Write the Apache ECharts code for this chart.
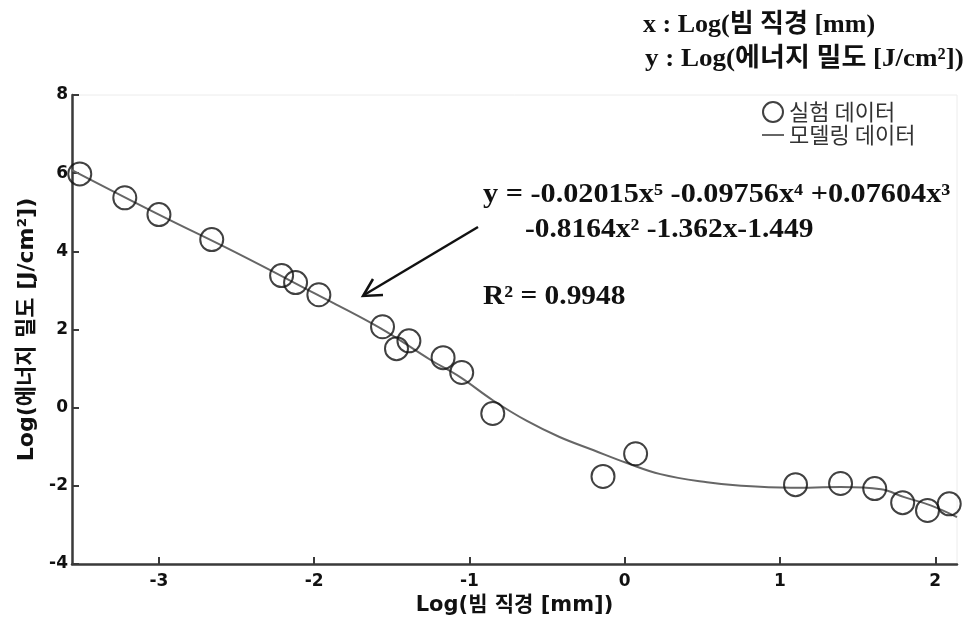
<!DOCTYPE html>
<html>
<head>
<meta charset="utf-8">
<script src="https://cdn.jsdelivr.net/npm/echarts@6/dist/echarts.min.js"></script>
<style>
html,body{margin:0;padding:0;background:#fff;}
#chart{width:970px;height:623px;}
</style>
</head>
<body>
<div id="chart"></div>
<script>
// ---- data ----
const xTicks = [-3, -2, -1, 0, 1, 2];
const expX = [-3.51, -3.22, -3.00, -2.66, -2.21, -2.12, -1.97, -1.56, -1.47, -1.39, -1.17, -1.05, -0.85, -0.14, 0.07, 1.10, 1.39, 1.61, 1.79, 1.95, 2.09];
const expY = [5.98, 5.37, 4.94, 4.30, 3.38, 3.20, 2.89, 2.07, 1.51, 1.71, 1.28, 0.90, -0.15, -1.76, -1.18, -1.97, -1.94, -2.07, -2.43, -2.63, -2.46];
const modelX = [-3.56, -3.0, -2.5, -2.0, -1.58, -1.25, -1.06, -0.85, -0.63, -0.42, -0.2, 0.01, 0.23, 0.53, 0.75, 1.07, 1.39, 1.65, 1.8, 1.97, 2.14];
const modelY = [6.08, 4.94, 3.96, 2.93, 2.05, 1.22, 0.78, 0.19, -0.34, -0.75, -1.09, -1.41, -1.70, -1.91, -2.0, -2.05, -2.03, -2.09, -2.29, -2.5, -2.8];
const expName = '실험 데이터';
const modelName = '모델링 데이터';

const expData = expX.map((x, i) => [x, expY[i]]);
const modelData = modelX.map((x, i) => [x, modelY[i]]);

const chart = echarts.init(document.getElementById('chart'), null, {renderer: 'canvas'});
const axisColor = '#3a3a3a';
const labelFont = {fontFamily: 'DejaVu Sans', fontWeight: 'bold', fontSize: 17, color: '#111'};
const nameFontFamily = 'DejaVu Sans, "Noto Sans CJK KR"';
const serif = '"Liberation Serif", "DejaVu Serif", "Noto Sans CJK KR"';

chart.setOption({
  animation: false,
  backgroundColor: '#fff',
  grid: {left: 72, right: 13, top: 95, bottom: 59, show: true, borderColor: '#ececec', borderWidth: 1},
  legend: {
    orient: 'vertical', left: 756, top: 96, itemWidth: 22, itemHeight: 20, itemGap: 1,
    textStyle: {fontFamily: '"Noto Sans CJK KR"', fontSize: 22, color: '#333'},
    data: [
      {name: expName, icon: 'circle', itemStyle: {color: 'rgba(0,0,0,0)', borderColor: '#111', borderWidth: 2}},
      {name: modelName, itemStyle: {opacity: 0}, lineStyle: {color: '#666', width: 2}}
    ]
  },
  xAxis: {
    type: 'value', min: -3.56, max: 2.14,
    axisLine: {onZero: false, lineStyle: {color: axisColor, width: 2.5}},
    axisTick: {inside: true, length: 7, customValues: xTicks, lineStyle: {color: axisColor, width: 2}},
    axisLabel: Object.assign({customValues: xTicks, margin: 9}, labelFont),
    splitLine: {show: false},
    name: 'Log(빔 직경 [mm])', nameLocation: 'middle', nameGap: 27,
    nameTextStyle: {fontFamily: nameFontFamily, fontWeight: 'bold', fontSize: 21, color: '#111'}
  },
  yAxis: {
    type: 'value', min: -4, max: 8, interval: 2,
    axisLine: {show: true, onZero: false, lineStyle: {color: axisColor, width: 2.5}},
    axisTick: {show: true, inside: true, length: 7, lineStyle: {color: axisColor, width: 2}},
    axisLabel: Object.assign({margin: 4}, labelFont),
    splitLine: {show: false},
    name: 'Log(에너지 밀도 [J/cm²])', nameLocation: 'middle', nameGap: 31, nameRotate: 90,
    nameTextStyle: {fontFamily: nameFontFamily, fontWeight: 'bold', fontSize: 22, color: '#111'}
  },
  series: [
    {
      name: modelName, type: 'line', data: modelData, smooth: 0.4,
      symbol: 'none', showSymbol: false, z: 2,
      lineStyle: {color: '#666', width: 2},
      itemStyle: {color: '#666'}
    },
    {
      name: expName, type: 'scatter', data: expData, symbol: 'circle', symbolSize: 23, z: 3,
      itemStyle: {color: 'rgba(0,0,0,0)', borderColor: '#111', borderWidth: 2}
    }
  ],
  graphic: [
    {type: 'text', x: 643, y: 25, style: {text: 'x : Log(빔 직경 [mm)', font: 'bold 26px ' + serif, fill: '#111', verticalAlign: 'middle'}},
    {type: 'text', x: 645, y: 59, scaleX: 1.04, style: {text: 'y : Log(에너지 밀도 [J/cm²])', font: 'bold 26px ' + serif, fill: '#111', verticalAlign: 'middle'}},
    {type: 'text', x: 483, y: 195, scaleX: 1.12, style: {text: 'y = -0.02015x⁵ -0.09756x⁴ +0.07604x³', font: 'bold 27px ' + serif, fill: '#111', verticalAlign: 'middle'}},
    {type: 'text', x: 525, y: 230, scaleX: 1.09, style: {text: '-0.8164x² -1.362x-1.449', font: 'bold 27px ' + serif, fill: '#111', verticalAlign: 'middle'}},
    {type: 'text', x: 483, y: 297, scaleX: 1.09, style: {text: 'R² = 0.9948', font: 'bold 27px ' + serif, fill: '#111', verticalAlign: 'middle'}},
    {type: 'polyline', shape: {points: [[478, 227], [364, 295]]}, style: {stroke: '#111', lineWidth: 2.5, fill: null}},
    {type: 'polyline', shape: {points: [[383, 295], [363, 296], [373, 279]]}, style: {stroke: '#111', lineWidth: 2.5, fill: null}}
  ]
});
</script>
</body>
</html>
